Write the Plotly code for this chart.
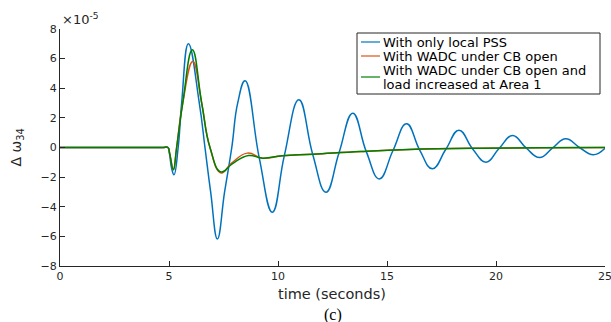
import plotly.graph_objects as go

# Rotor speed deviation of machines 3-4 after the disturbance (units of 1e-5)
t_local = [0, 1, 2, 3, 4, 4.7, 4.95, 5.03, 5.12, 5.23, 5.42, 5.58, 5.89, 6.39, 6.65, 6.91, 7.22, 7.55,
           7.88, 8.15, 8.49, 9.14, 9.74, 10.29, 10.96, 11.59, 12.2, 12.8, 13.43, 14.05, 14.65, 15.27,
           15.9, 16.5, 17.08, 17.7, 18.3, 18.92, 19.54, 20.15, 20.76, 21.38, 22.0, 22.6, 23.2, 23.83,
           24.46, 25]
w_local = [0, 0, 0, 0, 0, 0, 0, -0.5, -1.4, -1.84, 0, 3.0, 7.0, 3.0, 0, -3.0, -6.17, -3.0,
           0, 3.0, 4.5, -0.7, -4.37, -0.55, 3.22, -0.45, -3.02, -0.35, 2.32, -0.28, -2.12, -0.22,
           1.6, -0.17, -1.44, -0.12, 1.17, -0.08, -0.99, -0.05, 0.81, -0.03, -0.68, -0.02, 0.59, 0.0,
           -0.49, -0.05]

t_cb_open = [0, 1, 2, 3, 4, 4.7, 4.95, 5.03, 5.2, 5.35, 5.63, 6.09, 6.5, 6.88, 7.39, 7.87, 8.59, 9.3,
             10.2, 11.6, 13.8, 16.0, 19.3, 22.0, 25]
w_cb_open = [0, 0, 0, 0, 0, 0, 0, -0.4, -1.5, 0, 3.0, 5.8, 3.0, 0, -1.72, -1.06, -0.38, -0.72,
             -0.55, -0.45, -0.27, -0.14, -0.05, -0.02, 0]

t_cb_load = [0, 1, 2, 3, 4, 4.7, 4.95, 5.03, 5.2, 5.35, 5.63, 6.07, 6.5, 6.88, 7.39, 7.9, 8.65, 9.3,
             10.2, 11.6, 13.8, 16.0, 19.3, 22.0, 25]
w_cb_load = [0, 0, 0, 0, 0, 0, 0, -0.4, -1.5, 0, 3.0, 6.6, 3.0, 0, -1.65, -1.1, -0.54, -0.72,
             -0.55, -0.45, -0.27, -0.14, -0.05, -0.02, 0]

series_names = ["With only local PSS", "With WADC under CB open",
                "With WADC under CB open and load increased at Area 1"]
legend_lines = [["With only local PSS"], ["With WADC under CB open"],
                ["With WADC under CB open and", "load increased at Area 1"]]
series_colors = ["#0072BD", "#D95319", "#008000"]

x_ticks = [0, 5, 10, 15, 20, 25]
y_ticks = [-8, -6, -4, -2, 0, 2, 4, 6, 8]

# plot area in pixels
W, H = 611, 322
L, R, T, B = 60, 6, 29, 56
PW, PH = W - L - R, H - T - B


def px(x):
    return (x - L) / PW


def py(y):
    return (H - B - y) / PH


SANS = "DejaVu Sans"
INK = "#262626"

fig = go.Figure()
for t, w, name, color in zip([t_local, t_cb_open, t_cb_load],
                             [w_local, w_cb_open, w_cb_load],
                             series_names, series_colors):
    fig.add_trace(go.Scatter(x=t, y=w, mode="lines", name=name, showlegend=False,
                             line=dict(color=color, width=1.5, shape="spline", smoothing=1.3)))

axis_common = dict(showgrid=False, zeroline=False, showline=True, linecolor=INK,
                   linewidth=1, ticks="inside", ticklen=5, tickcolor=INK, automargin=False,
                   tickfont=dict(family=SANS, size=11, color=INK))

fig.update_layout(
    width=W, height=H,
    margin=dict(l=L, r=R, t=T, b=B, autoexpand=False),
    paper_bgcolor="white", plot_bgcolor="white",
    font=dict(family=SANS, size=12, color=INK),
    xaxis=dict(range=[0, 25], tickvals=x_ticks, ticklabeloverflow="allow", **axis_common),
    yaxis=dict(range=[-8, 8], tickvals=y_ticks,
               title=dict(text="Δ ω<sub>34</sub>",
                          font=dict(family=SANS, size=14, color=INK)),
               **axis_common),
    showlegend=False,
)

# x-axis title and panel tag
fig.add_annotation(x=px(332), y=py(294), xref="paper", yref="paper", xanchor="center",
                   yanchor="middle", text="time (seconds)", showarrow=False, borderpad=0,
                   font=dict(family=SANS, size=14.5, color=INK))
fig.add_annotation(x=px(333), y=py(314.5), xref="paper", yref="paper", xanchor="center",
                   yanchor="middle", text="(c)", showarrow=False, borderpad=0,
                   font=dict(family="Liberation Serif", size=16, color="black"))

# legend box drawn in paper coordinates
lx0, lx1, ly0, ly1 = 357, 600, 33, 94
fig.add_shape(type="rect", xref="paper", yref="paper",
              x0=px(lx0), x1=px(lx1), y0=py(ly1), y1=py(ly0),
              line=dict(color=INK, width=1), fillcolor="white", layer="above")
text_rows = [42, 56, 70, 84]
sample_rows = [42, 56, 77]
row = 0
for i, (lines, color) in enumerate(zip(legend_lines, series_colors)):
    fig.add_shape(type="line", xref="paper", yref="paper",
                  x0=px(361), x1=px(380), y0=py(sample_rows[i]), y1=py(sample_rows[i]),
                  line=dict(color=color, width=1.2), layer="above")
    for ln in lines:
        fig.add_annotation(x=px(382), y=py(text_rows[row]), xref="paper", yref="paper",
                           xanchor="left", yanchor="middle", text=ln, showarrow=False,
                           borderpad=0, font=dict(family=SANS, size=13, color="black"))
        row += 1

fig.add_annotation(x=px(60), y=py(29), xref="paper", yref="paper", xanchor="left",
                   yanchor="bottom", text="×10<sup>-5</sup>", showarrow=False,
                   font=dict(family=SANS, size=13, color=INK))

fig.write_html("out.html")
